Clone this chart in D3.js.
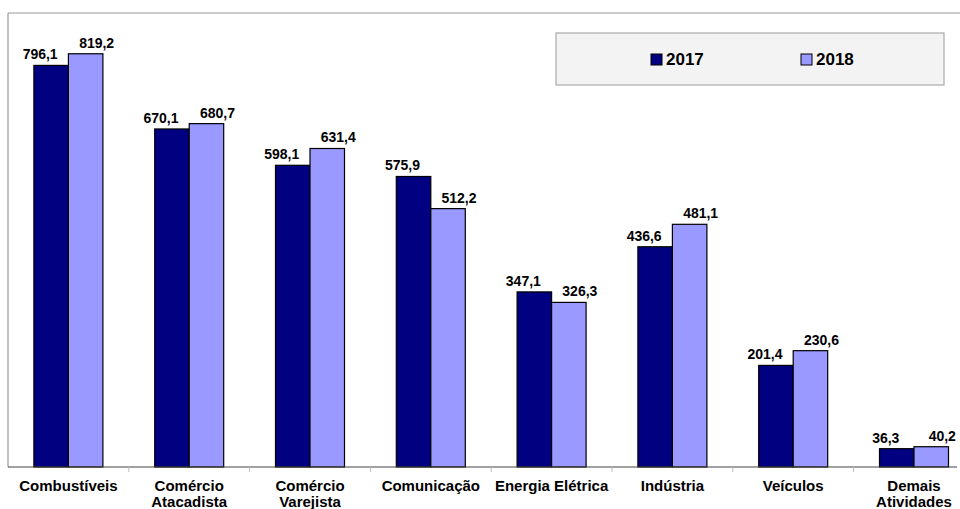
<!DOCTYPE html>
<html>
<head>
<meta charset="utf-8">
<script src="https://cdn.jsdelivr.net/npm/d3@7"></script>
<style>
  html, body { margin: 0; padding: 0; background: #fff; }
  svg { display: block; font-family: "Liberation Sans", Arial, sans-serif; }
</style>
</head>
<body>
<svg id="chart" width="960" height="509"></svg>
<script>
// Categories and yearly values
const categories = ["Combustíveis", "Comércio\nAtacadista", "Comércio\nVarejista", "Comunicação",
                    "Energia Elétrica", "Indústria", "Veículos", "Demais\nAtividades"];
const years = ["2017", "2018"];
const values2017 = [796.1, 670.1, 598.1, 575.9, 347.1, 436.6, 201.4, 36.3];
const values2018 = [819.2, 680.7, 631.4, 512.2, 326.3, 481.1, 230.6, 40.2];
const colors = ["#000080", "#9999ff"];

const svg = d3.select("#chart");
const plotLeft = 8, plotTop = 13, plotBottom = 467;

const x = d3.scaleBand().domain(categories).range([plotLeft, 974.4]).padding(0);
const y = d3.scaleLinear().domain([0, 900]).range([plotBottom, plotTop]);
const barW = 34.5;
const fmt = v => d3.format(".1f")(v).replace(".", ",");

// Plot frame: top and left edges
svg.append("line").attr("x1", plotLeft).attr("x2", 960).attr("y1", plotTop).attr("y2", plotTop)
  .attr("stroke", "#9a9a9a").attr("stroke-width", 1.2);
svg.append("line").attr("x1", plotLeft).attr("x2", plotLeft).attr("y1", plotTop).attr("y2", plotBottom)
  .attr("stroke", "#9a9a9a").attr("stroke-width", 1.2);

// Bars
const series = [values2017, values2018];
series.forEach((vals, s) => {
  const g = svg.append("g");
  g.selectAll("rect").data(vals).join("rect")
    .attr("x", (d, i) => x(categories[i]) + x.bandwidth() / 2 - barW + s * barW)
    .attr("y", d => y(d))
    .attr("width", barW)
    .attr("height", d => y(0) - y(d))
    .attr("fill", colors[s])
    .attr("stroke", "#000")
    .attr("stroke-width", 1.2);
  g.selectAll("text").data(vals).join("text")
    .attr("x", (d, i) => x(categories[i]) + x.bandwidth() / 2 + (s === 0 ? -barW / 2 - 11 : barW / 2 + 11))
    .attr("y", d => y(d) - 6)
    .attr("text-anchor", "middle")
    .attr("font-size", 14).attr("font-weight", "bold").attr("fill", "#000")
    .text(d => fmt(d));
});

// Baseline
svg.append("line").attr("x1", plotLeft).attr("x2", 957).attr("y1", plotBottom).attr("y2", plotBottom)
  .attr("stroke", "#444").attr("stroke-width", 1.2);

// Boundary ticks between categories
svg.append("g").selectAll("line").data(categories.slice(1)).join("line")
  .attr("x1", d => x(d)).attr("x2", d => x(d))
  .attr("y1", plotBottom).attr("y2", plotBottom + 5)
  .attr("stroke", "#bbb");

// Category labels (two-line names wrap at the newline)
const xAxis = svg.append("g").attr("transform", `translate(0,${plotBottom})`)
  .call(d3.axisBottom(x).tickSize(0).tickFormat(""));
xAxis.select(".domain").remove();
xAxis.selectAll(".tick").each(function(d) {
  const lines = d.split("\n");
  const t = d3.select(this).append("text")
    .attr("text-anchor", "middle")
    .attr("font-size", 15).attr("font-weight", "bold").attr("fill", "#000");
  lines.forEach((ln, k) => {
    t.append("tspan").attr("x", 0).attr("y", 24 + k * 16).text(ln);
  });
});

// Legend
const lg = svg.append("g");
lg.append("rect").attr("x", 556).attr("y", 33).attr("width", 388).attr("height", 52)
  .attr("fill", "#f3f3f3").attr("stroke", "#aaa").attr("stroke-width", 1.2);
const legendX = [651, 801];
years.forEach((yr, i) => {
  lg.append("rect").attr("x", legendX[i]).attr("y", 54).attr("width", 11).attr("height", 11)
    .attr("fill", colors[i]).attr("stroke", "#000").attr("stroke-width", 1);
  lg.append("text").attr("x", legendX[i] + 15).attr("y", 65)
    .attr("font-size", 17).attr("font-weight", "bold").attr("fill", "#000").text(yr);
});
</script>
</body>
</html>
